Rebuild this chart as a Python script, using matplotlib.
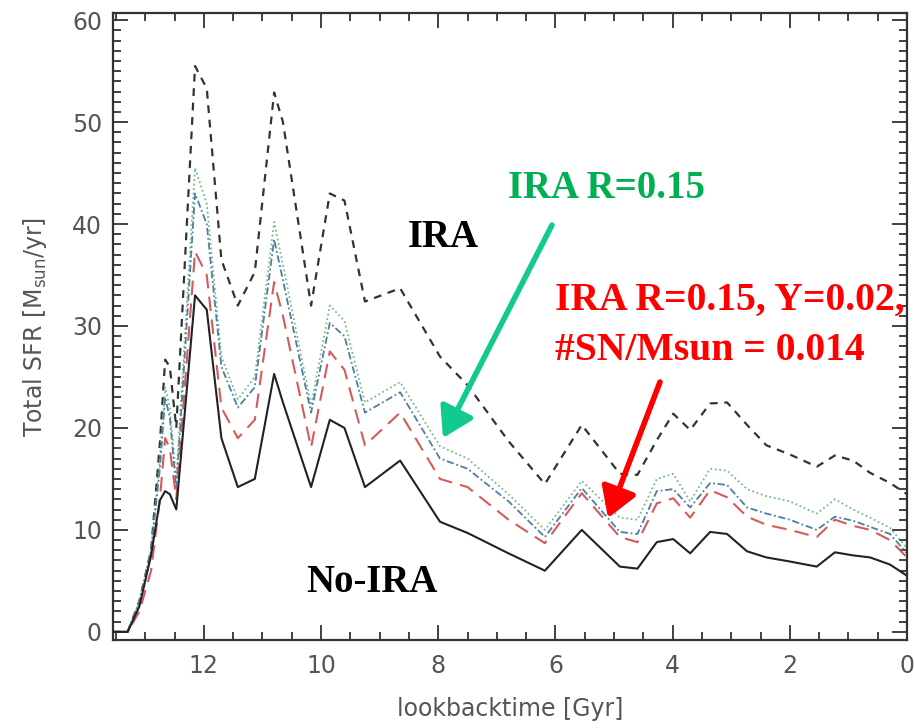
import matplotlib
matplotlib.use("Agg")
import matplotlib.pyplot as plt
from matplotlib.ticker import MultipleLocator

# lookback time grid [Gyr]
lookback = [13.55, 13.3, 13.1, 12.9, 12.75, 12.66, 12.58, 12.47, 12.15, 11.95, 11.7, 11.42,
            11.13, 10.8, 10.65, 10.17, 9.85, 9.6, 9.25, 8.65, 7.97, 7.5, 6.8, 6.18, 5.55,
            4.9, 4.6, 4.27, 3.99, 3.7, 3.36, 3.07, 2.73, 2.4, 2.0, 1.54, 1.23, 0.92, 0.63,
            0.29, 0.0]

sfr_ira = [0, 0, 3, 8, 18.5, 26.7, 26, 20, 55.5, 53.3, 36.5, 32, 35.3, 52.9, 50, 32, 43,
           42.3, 32.4, 33.7, 27, 24.2, 18.7, 14.5, 20.3, 15.5, 15.4, 18.8, 21.4, 19.8, 22.4,
           22.5, 20.3, 18.3, 17.4, 16.2, 17.3, 16.8, 15.6, 14.6, 13.5]
sfr_green = [0, 0, 3, 8, 17, 24, 22, 15, 45.5, 42, 27, 22.8, 25, 40.2, 36, 22.2, 32, 30.5,
             22.5, 24.5, 18.2, 17, 13.5, 10, 14.8, 11.2, 11, 15, 15.5, 12.8, 16, 15.8, 14,
             13.3, 12.8, 11.6, 13, 12, 11.2, 10.2, 8.2]
sfr_blue = [0, 0, 3, 8, 16, 23, 21, 14, 43, 40, 26, 22, 24, 38.5, 34.5, 21.5, 30.3, 29,
            21.5, 23.5, 17, 16, 12.8, 9.3, 14.1, 9.8, 9.6, 13.8, 14, 12.2, 14.6, 14.4, 12.2,
            11.6, 11, 10, 11.3, 10.9, 10.3, 9.6, 7.7]
sfr_red = [0, 0, 2, 6, 13, 19, 18, 13, 37.3, 35, 22, 19, 20.8, 34.3, 31, 18.1, 27.5, 25.7,
           18.3, 21.5, 15, 14.2, 11, 8.7, 13.6, 9.3, 8.8, 12.6, 13.1, 11.2, 13.9, 13.2, 11.3,
           10.5, 10, 9.3, 11, 10.4, 10, 9, 7.3]
sfr_noira = [0, 0, 2.5, 7.5, 12.9, 13.8, 13.5, 12, 33, 31.6, 19, 14.2, 15, 25.3, 22.5, 14.2,
             20.8, 20, 14.2, 16.8, 10.8, 9.7, 7.7, 6, 10, 6.4, 6.2, 8.8, 9.1, 7.7, 9.8, 9.6,
             7.9, 7.3, 6.9, 6.4, 7.8, 7.5, 7.3, 6.6, 5.5]

x_ticks = [12, 10, 8, 6, 4, 2, 0]
y_ticks = [0, 10, 20, 30, 40, 50, 60]

plt.rcParams['mathtext.fontset'] = 'dejavusans'
W, H = 914, 728
fig = plt.figure(figsize=(W / 100, H / 100), dpi=100)
ax = fig.add_axes([113 / W, 1 - 640 / H, (907 - 113) / W, (640 - 13) / H])

ax.plot(lookback, sfr_ira, color='#333333', lw=1.6, ls=(0, (3.5, 3)))
ax.plot(lookback, sfr_green, color='#77bb88', lw=1.3, ls=(0, (1, 1.5)))
ax.plot(lookback, sfr_blue, color='#4b7fa3', lw=1.3, ls=(0, (4, 1.5, 1, 1.5)))
ax.plot(lookback, sfr_red, color='#d65a5a', lw=1.5, ls=(0, (7, 4)))
ax.plot(lookback, sfr_noira, color='#222222', lw=1.5, ls='-')

ax.set_xlim(13.55, 0)
ax.set_ylim(-0.8, 60.7)
ax.set_xticks(x_ticks)
ax.set_yticks(y_ticks)
ax.xaxis.set_minor_locator(MultipleLocator(0.5))
ax.yaxis.set_minor_locator(MultipleLocator(1))
ax.tick_params(which='both', direction='in', top=True, right=True, width=1.3,
               color='#333333', labelsize=17, labelcolor='#555555')
ax.tick_params(which='major', length=11)
ax.tick_params(which='minor', length=6)
ax.tick_params(axis='x', pad=10)
ax.tick_params(axis='y', pad=8)
for s in ax.spines.values():
    s.set_linewidth(1.6)
    s.set_color('#333333')

ax.set_xlabel('lookbacktime [Gyr]', fontsize=17, color='#555555', labelpad=14)
ax.set_ylabel(r'Total SFR [M$_{\rm sun}$/yr]', fontsize=17, color='#555555', labelpad=16)

serif = 'Liberation Serif'
def fx(px):
    return px / W
def fy(py):
    return 1 - py / H

fig.text(fx(443), fy(238), 'IRA', fontsize=28, fontweight='bold', family=serif,
         color='black', ha='center', va='center')
fig.text(fx(607), fy(188), 'IRA R=0.15', fontsize=28, fontweight='bold', family=serif,
         color='#00b050', ha='center', va='center')
fig.text(fx(555), fy(300), 'IRA R=0.15, Y=0.02,', fontsize=28.5, fontweight='bold',
         family=serif, color='#ff0000', ha='left', va='center')
fig.text(fx(555), fy(350), '#SN/Msun = 0.014', fontsize=28.5, fontweight='bold',
         family=serif, color='#ff0000', ha='left', va='center')
fig.text(fx(372), fy(583), 'No-IRA', fontsize=28, fontweight='bold', family=serif,
         color='black', ha='center', va='center')

ax.annotate('', xy=(443, H - 438), xycoords='figure pixels',
            xytext=(552, H - 225), textcoords='figure pixels',
            arrowprops=dict(arrowstyle='-|>,head_length=0.9,head_width=0.55',
                            lw=4, color='#12c98f', mutation_scale=20,
                            shrinkA=0, shrinkB=0))
ax.annotate('', xy=(608, H - 518), xycoords='figure pixels',
            xytext=(660, H - 382), textcoords='figure pixels',
            arrowprops=dict(arrowstyle='-|>,head_length=0.9,head_width=0.55',
                            lw=4, color='#ff0000', mutation_scale=20,
                            shrinkA=0, shrinkB=0))

fig.savefig('out.png', dpi=100)
